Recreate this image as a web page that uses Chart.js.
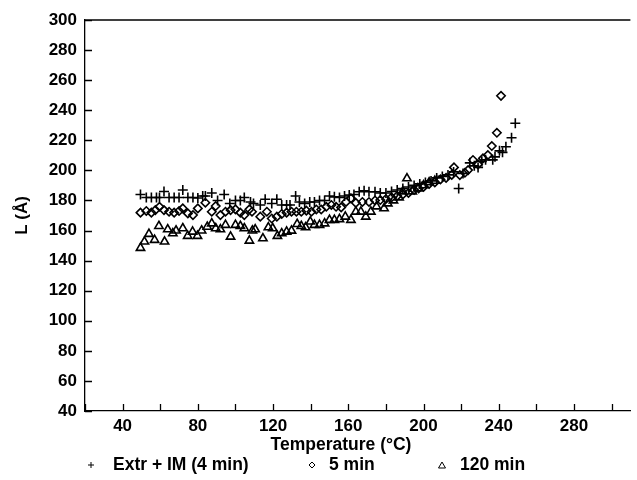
<!DOCTYPE html>
<html>
<head>
<meta charset="utf-8">
<script src="https://cdn.jsdelivr.net/npm/chart.js@4/dist/chart.umd.min.js"></script>
<style>
  body { margin: 0; background: #fff; }
</style>
</head>
<body>
<canvas id="chart" width="637" height="480"></canvas>
<script>
// tick values
const xTicks = [20, 40, 60, 80, 100, 120, 140, 160, 180, 200, 220, 240, 260, 280, 300];
const yTicks = [40, 60, 80, 100, 120, 140, 160, 180, 200, 220, 240, 260, 280, 300];

// Extr + IM (4 min)
const tempExtr = [49.5, 52.6, 55.3, 58, 59.6, 62, 64.7, 67.4, 70, 72, 74.7, 77.4, 80, 82.6, 84, 87.4, 90.5, 94, 97, 100,
  102.6, 104.7, 108, 109.6, 113.2, 115.8, 119.3, 122, 124.6, 127.2, 129, 132, 134, 136.8, 139.5, 142, 144.7, 147.4, 150, 152.6,
  155.3, 158, 160.5, 163, 165.8, 168.4, 171, 174.2, 177, 180, 183, 186, 189, 192, 195, 198, 201, 204, 207, 210,
  213, 216, 218.7, 221, 224.6, 227, 229, 231, 233, 236.8, 238, 240.4, 242, 243.8, 246.8, 248.8];
const lExtr = [184, 182, 182, 182, 182, 186, 182, 182, 182, 187, 182, 182, 181.6, 183, 183, 185, 180, 184, 178, 180,
  180, 182, 179, 178, 177, 180.8, 178, 180.8, 177, 177, 177, 183, 179, 178, 179, 179, 180, 180, 183, 182.4,
  182, 183, 183.6, 184, 185.8, 186.4, 185.8, 185.8, 185, 185, 186, 187, 188, 189, 190, 191, 192, 193, 195, 196,
  197, 199, 188, 198, 205, 203, 202, 206, 207, 207, 209, 213, 212, 215.7, 221.7, 231.3];

// 5 min
const temp5 = [49.5, 52.6, 55.3, 57.4, 59.6, 62, 64.7, 67.4, 70, 72, 74.7, 77.4, 80, 84, 87.4, 89.5, 92, 94.7, 97.4, 100,
  102.6, 104.7, 107.4, 108.8, 113.2, 116.7, 119.3, 122, 124.6, 127.2, 129.8, 132.4, 135, 137.7, 140.4, 143, 145.6, 148.3, 151, 153.5,
  156.2, 158.8, 161.4, 164, 167.5, 171, 174.2, 177, 180, 183, 186, 189, 192, 195, 197.4, 200, 203, 206, 209, 212,
  215, 216.2, 219.3, 222, 223.7, 226.3, 229, 231.6, 234.2, 236.3, 239, 241.2];
const l5 = [171.9, 173, 171.9, 173.6, 175.8, 173.6, 172.5, 171.9, 173, 174.7, 171.4, 170.3, 174.7, 178.5, 172.5, 176.3, 170.3, 172.5, 173.6, 174.1,
  171.9, 170.3, 174.1, 172.5, 169.2, 172.5, 168, 169.2, 171, 171.9, 172.5, 172.5, 172.5, 173.2, 172.5, 174, 174, 175.8, 177, 175.8,
  175.4, 179, 181.4, 178.4, 179, 179, 180, 180.3, 181, 182, 183, 184, 185, 187, 188, 189, 191, 192, 194, 195,
  197, 202, 196.9, 198.4, 200.2, 206.9, 204, 208, 210.2, 216.2, 225, 249.6];

// 120 min
const temp120 = [49.5, 51.6, 54, 57, 59.3, 62.3, 64, 66.7, 68.4, 72, 74.6, 77.2, 79.8, 82, 85, 87.4, 89.5, 92, 94.7, 97.4,
  100, 102.6, 104.7, 107.4, 109, 110.5, 114.6, 117.5, 119.8, 122.3, 124.6, 127.2, 129.8, 132.8, 135, 137.3, 139.8, 142, 144.7, 147.4,
  150, 152.6, 155.3, 158.4, 161.4, 164, 166.7, 169.3, 172, 175, 179, 181, 184, 187, 189, 191.2, 194, 197, 200, 203, 206];
const l120 = [148.4, 152.6, 157.7, 153.7, 163, 152.6, 160.8, 158.1, 160, 161.5, 156.4, 159.2, 156.4, 160, 162.5, 164.7, 161.5, 160.8, 163.7, 155.9,
  163.7, 163, 161.5, 153.2, 160, 160.8, 154.8, 162.1, 161.5, 156.4, 158.1, 159.2, 159.9, 164.3, 163, 162.1, 165.9, 163.7, 163.7, 164.7,
  167, 167, 167.5, 169.2, 167, 172.5, 172.5, 169.2, 172.5, 176, 174.8, 178, 180, 182, 186, 194.7, 186, 188, 190, 192, 193];

const FONT = "'Liberation Sans', Arial, sans-serif";

function pts(xs, ys) {
  return xs.map((x, i) => ({ x: x, y: ys[i] }));
}

// top border, inward ticks, x title and legend
const framePlugin = {
  id: 'frame',
  afterDraw(chart) {
    const { ctx, chartArea: a, scales: { x, y } } = chart;
    ctx.save();
    ctx.strokeStyle = '#000';
    ctx.lineWidth = 1.3;
    ctx.beginPath();
    ctx.moveTo(a.left, a.top);
    ctx.lineTo(a.right, a.top);
    x.ticks.forEach(t => {
      const px = Math.round(x.getPixelForValue(t.value)) + 0.5;
      ctx.moveTo(px, a.bottom);
      ctx.lineTo(px, a.bottom - 7);
    });
    y.ticks.forEach(t => {
      const py = Math.round(y.getPixelForValue(t.value)) + 0.5;
      ctx.moveTo(a.left, py);
      ctx.lineTo(a.left + 7, py);
    });
    ctx.stroke();

    ctx.fillStyle = '#000';
    ctx.font = 'bold 17.5px ' + FONT;
    ctx.textAlign = 'center';
    ctx.textBaseline = 'middle';
    ctx.fillText('Temperature (°C)', 341, 445);

    // legend
    const ly = 465;
    const items = [
      { mx: 91, tx: 113 },
      { mx: 312, tx: 329 },
      { mx: 442, tx: 460 }
    ];
    ctx.font = 'bold 17.5px ' + FONT;
    ctx.textAlign = 'left';
    ctx.lineWidth = 1;
    chart.data.datasets.forEach((ds, i) => {
      const it = items[i];
      ctx.beginPath();
      if (ds.pointStyle === 'cross') {
        ctx.moveTo(it.mx - 3, ly); ctx.lineTo(it.mx + 3, ly);
        ctx.moveTo(it.mx, ly - 3); ctx.lineTo(it.mx, ly + 3);
      } else if (ds.pointStyle === 'rectRot') {
        ctx.moveTo(it.mx, ly - 3); ctx.lineTo(it.mx + 3, ly);
        ctx.lineTo(it.mx, ly + 3); ctx.lineTo(it.mx - 3, ly); ctx.closePath();
      } else {
        ctx.moveTo(it.mx, ly - 3); ctx.lineTo(it.mx + 3.5, ly + 3);
        ctx.lineTo(it.mx - 3.5, ly + 3); ctx.closePath();
      }
      ctx.stroke();
      ctx.fillText(ds.label, it.tx, ly);
    });
    ctx.restore();
  }
};

new Chart(document.getElementById('chart'), {
  type: 'scatter',
  data: {
    datasets: [
      {
        label: 'Extr + IM (4 min)',
        data: pts(tempExtr, lExtr),
        pointStyle: 'cross',
        pointRadius: 5,
        borderColor: '#000',
        borderWidth: 1.6,
        backgroundColor: 'transparent'
      },
      {
        label: '5 min',
        data: pts(temp5, l5),
        pointStyle: 'rectRot',
        pointRadius: 4.2,
        borderColor: '#000',
        borderWidth: 1.6,
        backgroundColor: 'transparent'
      },
      {
        label: '120 min',
        data: pts(temp120, l120),
        pointStyle: 'triangle',
        pointRadius: 4.8,
        borderColor: '#000',
        borderWidth: 1.6,
        backgroundColor: 'transparent'
      }
    ]
  },
  options: {
    responsive: false,
    animation: false,
    layout: { padding: { left: 0, top: 20, right: 5, bottom: 24 } },
    plugins: {
      legend: { display: false },
      tooltip: { enabled: false }
    },
    scales: {
      x: {
        type: 'linear',
        min: 20,
        max: 310,
        afterBuildTicks: s => { s.ticks = xTicks.map(v => ({ value: v })); },
        afterFit: s => { s.height = 45; },
        grid: { display: false, drawTicks: false },
        border: { display: true, color: '#000', width: 1.3 },
        ticks: {
          autoSkip: false,
          maxRotation: 0,
          padding: 5,
          color: '#000',
          font: { family: FONT, size: 17, weight: 'bold' },
          callback: v => (v % 40 === 0 && v >= 40 && v <= 280) ? String(v) : ''
        }
      },
      y: {
        min: 40,
        max: 300,
        afterBuildTicks: s => { s.ticks = yTicks.map(v => ({ value: v })); },
        afterFit: s => { s.width = 85; },
        grid: { display: false, drawTicks: false },
        border: { display: true, color: '#000', width: 1.3 },
        title: {
          display: true,
          text: 'L (Å)',
          color: '#000',
          padding: { top: 12, bottom: 0 },
          font: { family: FONT, size: 17, weight: 'bold' }
        },
        ticks: {
          autoSkip: false,
          padding: 8,
          color: '#000',
          font: { family: FONT, size: 17, weight: 'bold' },
          callback: v => String(v)
        }
      }
    }
  },
  plugins: [framePlugin]
});
</script>
</body>
</html>
